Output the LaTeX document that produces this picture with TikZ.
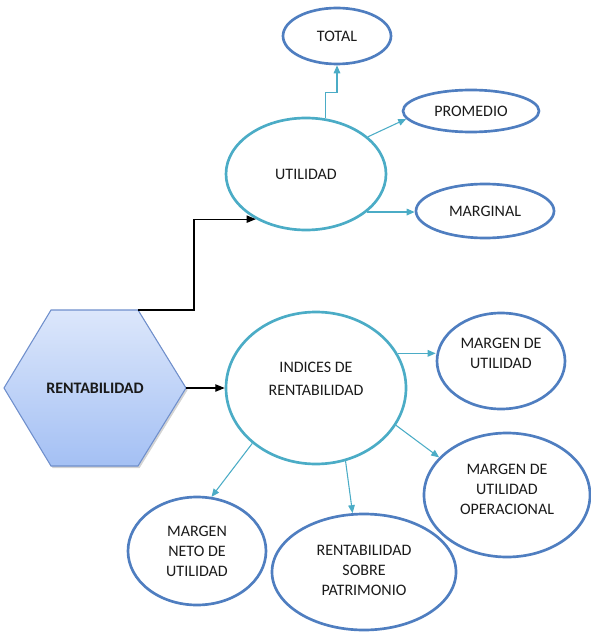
\documentclass[tikz,border=0pt]{standalone}
\usepackage{fontspec}
\setmainfont{Carlito}
\usetikzlibrary{shapes.geometric,arrows.meta,shadows}
\definecolor{aquaC}{HTML}{4BACC6}
\definecolor{blueC}{HTML}{4F7EC0}
\definecolor{hexTop}{HTML}{DCE7FB}
\definecolor{hexBot}{HTML}{A4C0F4}
\definecolor{hexLine}{HTML}{6F8FCC}
\definecolor{txtC}{HTML}{1A1A1A}
\begin{document}
\begin{tikzpicture}[x=0.75pt,y=-0.75pt,
  font=\fontsize{12}{15}\selectfont,
  tealell/.style={ellipse, draw=aquaC, line width=2pt, inner sep=0pt, text=txtC, align=center},
  blueell/.style={ellipse, draw=blueC, line width=2pt, inner sep=0pt, text=txtC, align=center},
  txt/.style={text=txtC, align=center, inner sep=0pt},
  conn/.style={draw=aquaC, line width=0.8pt, -{Triangle[length=6pt,width=5pt]}},
  blk/.style={draw=black, line width=0.9pt, -{Triangle[length=7pt,width=5.5pt]}},
  hexstyle/.style={draw=hexLine, line width=0.8pt, top color=hexTop, bottom color=hexBot,
    drop shadow={opacity=0.35, shadow xshift=1.2pt, shadow yshift=-1.5pt, fill=gray}}
]
\useasboundingbox (0,0) rectangle (591,638);

% hexagon
\coordinate (hexTR) at (138,310);
\coordinate (hexR) at (186,388);
\path[hexstyle] (51,310) -- (hexTR) -- (hexR) -- (138,466) -- (51,466) -- (4,388) -- cycle;
\node[txt, font=\fontsize{12}{15}\selectfont\bfseries] (hex) at (95,388) {RENTABILIDAD};

% top branch
\node[tealell, minimum width=120pt, minimum height=84pt] (util) at (306,174) {UTILIDAD};
\node[blueell, minimum width=81pt, minimum height=42pt] (total) at (337,36) {TOTAL};
\node[blueell, minimum width=102pt, minimum height=31.5pt] (prom) at (471,111) {PROMEDIO};
\node[blueell, minimum width=103.5pt, minimum height=40.5pt] (marg) at (485,211) {MARGINAL};

% bottom branch
\node[tealell, minimum width=135pt, minimum height=114pt] (ind) at (316,388) {};
\node[txt, font=\fontsize{12}{17}\selectfont] (indT) at (316,379) {INDICES DE\\RENTABILIDAD};
\node[blueell, minimum width=96pt, minimum height=72pt] (mu) at (501,361) {};
\node[txt] (muT) at (501,353) {MARGEN DE\\UTILIDAD};
\node[blueell, minimum width=124.5pt, minimum height=93pt] (op) at (507,495) {};
\node[txt] (opT) at (507,489) {MARGEN DE\\UTILIDAD\\OPERACIONAL};
\node[blueell, minimum width=138pt, minimum height=87pt] (pat) at (364,572) {};
\node[txt] (patT) at (364,570) {RENTABILIDAD\\SOBRE\\PATRIMONIO};
\node[blueell, minimum width=103.5pt, minimum height=81pt] (mn) at (197,551) {};
\node[txt] (mnT) at (197,551) {MARGEN\\NETO DE\\UTILIDAD};

% black connectors
\draw[blk] (hexTR) -- ++(56,0) |- (util.222);
\draw[blk] (hexR) -- (ind.west);

% teal connectors
\draw[conn] (util.71) -- ++(0,-26) -| (total.south);
\draw[conn] (util.31) -- (prom.187);
\draw[conn] (util.-32) -- (util.-32 -| marg.west);
\draw[conn] (ind.23) -- (ind.23 -| mu.west);
\draw[conn] (ind.-25) -- (op.151);
\draw[conn] (ind.-68) -- (pat.101);
\draw[conn] (ind.221) -- (mn.75);
\end{tikzpicture}
\end{document}
